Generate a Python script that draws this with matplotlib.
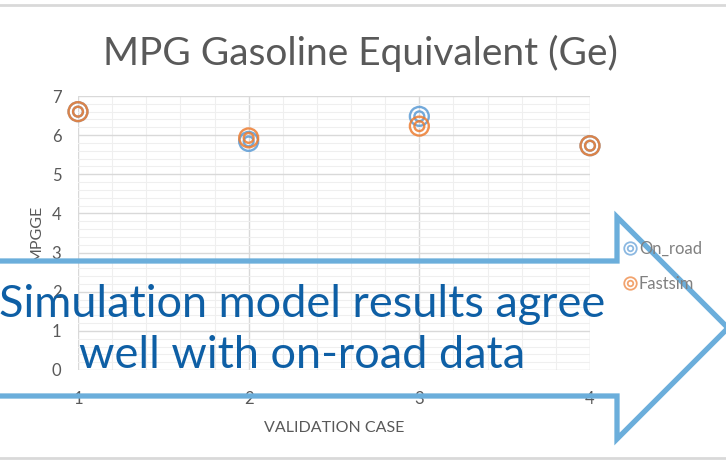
import matplotlib
matplotlib.use("Agg")
import matplotlib.pyplot as plt
from matplotlib.lines import Line2D
from matplotlib.patches import Polygon
from matplotlib.legend_handler import HandlerTuple
from matplotlib.ticker import MultipleLocator

cases = [1, 2, 3, 4]
on_road = [6.60, 5.84, 6.48, 5.73]
fastsim = [6.60, 5.93, 6.23, 5.73]
series_names = ["On_road", "Fastsim"]
title = "MPG Gasoline Equivalent (Ge)"
xlabel = "VALIDATION CASE"
ylabel = "MPGGE"
callout = "Simulation model results agree\nwell with on-road data"

W, H = 726, 462
fig = plt.figure(figsize=(W / 100, H / 100), dpi=100)
plt.rcParams['font.family'] = ['Lato', 'DejaVu Sans']

def fx(px):
    return px / W

def fy(py):
    return 1 - py / H

ax = fig.add_axes([fx(78), fy(370), fx(590) - fx(78), fy(96) - fy(370)])
ax.set_xlim(1, 4)
ax.set_ylim(0, 7)
ax.xaxis.set_major_locator(MultipleLocator(1))
ax.xaxis.set_minor_locator(MultipleLocator(0.2))
ax.yaxis.set_major_locator(MultipleLocator(1))
ax.yaxis.set_minor_locator(MultipleLocator(0.2))
ax.grid(which='major', color='#D9D9D9', lw=1.0)
ax.grid(which='minor', color='#EFEFEF', lw=0.8)
ax.set_axisbelow(True)
for s in ax.spines.values():
    s.set_visible(False)
ax.tick_params(which='both', length=0, colors='#595959', labelsize=12)
ax.tick_params(axis='x', pad=15)
ax.tick_params(axis='y', pad=12)

colors = ['#5B9BD5', '#ED7D31']
handles = []
for vals, c in zip([on_road, fastsim], colors):
    ax.scatter(cases, vals, s=185, facecolors='none', edgecolors=c,
               linewidths=1.7, clip_on=False, zorder=3, alpha=0.85)
    ax.scatter(cases, vals, s=50, facecolors='none', edgecolors=c,
               linewidths=1.7, clip_on=False, zorder=3, alpha=0.85)
    h1 = Line2D([], [], marker='o', ms=9, mfc='none', mec=c, mew=1.3, ls='none', alpha=0.7)
    h2 = Line2D([], [], marker='o', ms=4, mfc='none', mec=c, mew=1.3, ls='none', alpha=0.7)
    handles.append((h1, h2))

ax.set_xlabel(xlabel, color='#595959', fontsize=11.5, labelpad=10)
ax.set_ylabel(ylabel, color='#595959', fontsize=11.5, labelpad=6)

fig.text(fx(360), fy(53), title, ha='center', va='center', fontsize=28, color='#595959')

leg = fig.legend(handles, series_names, handler_map={tuple: HandlerTuple(ndivide=1)},
                 loc='upper left', bbox_to_anchor=(fx(608), fy(226)), frameon=False,
                 fontsize=12, labelcolor='#808080', handlelength=0.8, handletextpad=0.15,
                 labelspacing=1.15)

# chart border lines
fig.add_artist(Line2D([0, 1], [fy(5), fy(5)], transform=fig.transFigure, color='#D9D9D9', lw=2))
fig.add_artist(Line2D([0, 1], [fy(458), fy(458)], transform=fig.transFigure, color='#D9D9D9', lw=2))

# callout arrow
arrow_px = [(-10, 261), (617, 261), (617, 217), (728, 328), (617, 439), (617, 396), (-10, 396)]
arrow = Polygon([(fx(x), fy(y)) for x, y in arrow_px], closed=True, transform=fig.transFigure,
                fill=False, edgecolor='#6BAEDB', lw=3.8, joinstyle='miter', zorder=5)
fig.add_artist(arrow)

fig.text(fx(302), fy(330), callout, ha='center', va='center', fontsize=32.5,
         color='#0E5FA5', linespacing=1.32, zorder=6)

fig.savefig('out.png', dpi=100)
